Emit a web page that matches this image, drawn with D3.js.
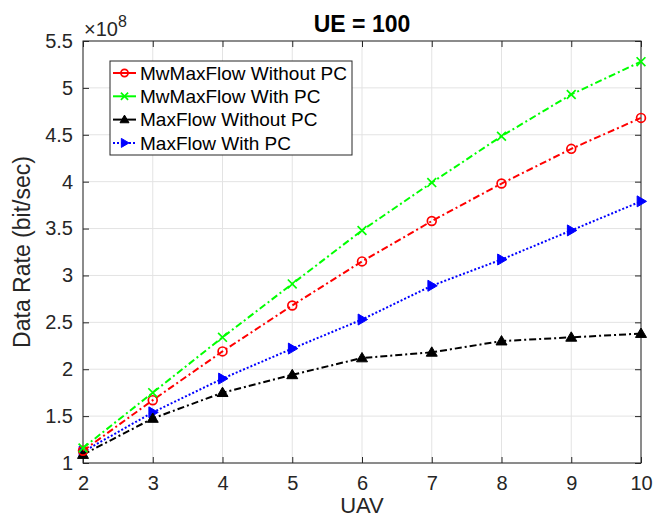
<!DOCTYPE html>
<html>
<head>
<meta charset="utf-8">
<script src="https://cdn.jsdelivr.net/npm/d3@7"></script>
<style>
  body { margin: 0; background: #fff; }
  svg { font-family: "Liberation Sans", Arial, sans-serif; }
</style>
</head>
<body>
<div id="chart"></div>
<script>
// data (values in units of 1e8 bit/sec)
const uav = [2, 3, 4, 5, 6, 7, 8, 9, 10];
const mwMaxFlowNoPC = [1.13, 1.67, 2.19, 2.68, 3.15, 3.58, 3.98, 4.35, 4.68];
const mwMaxFlowPC = [1.16, 1.75, 2.34, 2.91, 3.48, 3.99, 4.485, 4.93, 5.28];
const maxFlowNoPC = [1.09, 1.475, 1.75, 1.94, 2.12, 2.18, 2.30, 2.34, 2.38];
const maxFlowPC = [1.12, 1.54, 1.90, 2.22, 2.53, 2.89, 3.17, 3.48, 3.79];
const xTicks = [2, 3, 4, 5, 6, 7, 8, 9, 10];
const yTicks = [1, 1.5, 2, 2.5, 3, 3.5, 4, 4.5, 5, 5.5];

const series = [
  { name: 'MwMaxFlow Without PC', values: mwMaxFlowNoPC, color: '#ff0000', dash: '7,3,2,3', marker: 'circle' },
  { name: 'MwMaxFlow With PC', values: mwMaxFlowPC, color: '#00ff00', dash: '7,3,2,3', marker: 'x' },
  { name: 'MaxFlow Without PC', values: maxFlowNoPC, color: '#000000', dash: '7,3,2,3', marker: 'up' },
  { name: 'MaxFlow With PC', values: maxFlowPC, color: '#0000ff', dash: '2,2', marker: 'right' },
];

// dimensions
const WIDTH = 654;
const HEIGHT = 520;
const MARGIN = { top: 41, right: 13, bottom: 57, left: 83 };
const innerW = WIDTH - MARGIN.left - MARGIN.right;
const innerH = HEIGHT - MARGIN.top - MARGIN.bottom;
const AXIS_COLOR = '#262626';

const scaleX = d3.scaleLinear().domain([2, 10]).range([0, innerW]);
const scaleY = d3.scaleLinear().domain([1, 5.5]).range([innerH, 0]);

const $svg = d3.select('#chart').append('svg')
  .attr('width', WIDTH)
  .attr('height', HEIGHT);

const $vis = $svg.append('g').attr('transform', `translate(${MARGIN.left},${MARGIN.top})`);

// grid
$vis.append('g').selectAll('line').data(xTicks).join('line')
  .attr('x1', d => scaleX(d)).attr('x2', d => scaleX(d))
  .attr('y1', 0).attr('y2', innerH)
  .attr('stroke', '#e3e3e3').attr('stroke-width', 1);
$vis.append('g').selectAll('line').data(yTicks).join('line')
  .attr('y1', d => scaleY(d)).attr('y2', d => scaleY(d))
  .attr('x1', 0).attr('x2', innerW)
  .attr('stroke', '#e3e3e3').attr('stroke-width', 1);

// axes, ticks inward
function styleAxis(g) {
  g.select('.domain').remove();
  g.selectAll('.tick line').attr('stroke', AXIS_COLOR);
  g.selectAll('.tick text').attr('fill', AXIS_COLOR).style('font-size', '20px');
}
$vis.append('g').attr('transform', `translate(0,${innerH})`)
  .call(d3.axisBottom(scaleX).tickValues(xTicks).tickSizeInner(-6).tickPadding(13).tickFormat(d3.format('d')))
  .call(styleAxis);
$vis.append('g')
  .call(d3.axisTop(scaleX).tickValues(xTicks).tickSizeInner(-6).tickFormat(''))
  .call(styleAxis);
$vis.append('g')
  .call(d3.axisLeft(scaleY).tickValues(yTicks).tickSizeInner(-6).tickPadding(10).tickFormat(d => d))
  .call(styleAxis);
$vis.append('g').attr('transform', `translate(${innerW},0)`)
  .call(d3.axisRight(scaleY).tickValues(yTicks).tickSizeInner(-6).tickFormat(''))
  .call(styleAxis);

$vis.append('rect')
  .attr('width', innerW).attr('height', innerH)
  .attr('fill', 'none').attr('stroke', AXIS_COLOR).attr('stroke-width', 1);

// markers
function drawMarker(g, type, color, size) {
  if (type === 'circle') {
    g.append('circle').attr('r', size * 0.8).attr('fill', 'none')
      .attr('stroke', color).attr('stroke-width', 1.7);
  } else if (type === 'x') {
    const s = size * 0.8;
    g.append('path').attr('d', `M${-s},${-s}L${s},${s}M${-s},${s}L${s},${-s}`)
      .attr('stroke', color).attr('stroke-width', 1.7);
  } else if (type === 'up') {
    const s = size;
    g.append('path').attr('d', `M0,${-s}L${s},${s * 0.7}L${-s},${s * 0.7}Z`)
      .attr('fill', color).attr('stroke', color).attr('stroke-width', 1);
  } else if (type === 'right') {
    const s = size;
    g.append('path').attr('d', `M${s},0L${-s * 0.7},${-s}L${-s * 0.7},${s}Z`)
      .attr('fill', color).attr('stroke', color).attr('stroke-width', 1);
  }
}

const line = d3.line().x((d, i) => scaleX(uav[i])).y(d => scaleY(d));

const drawOrder = [3, 2, 0, 1];
drawOrder.forEach(k => {
  const s = series[k];
  $vis.append('path')
    .datum(s.values)
    .attr('d', line)
    .attr('fill', 'none')
    .attr('stroke', s.color)
    .attr('stroke-width', 2)
    .attr('stroke-dasharray', s.dash);
  s.values.forEach((v, i) => {
    const g = $vis.append('g').attr('transform', `translate(${scaleX(uav[i])},${scaleY(v)})`);
    drawMarker(g, s.marker, s.color, 5.5);
  });
});

// legend
const $legend = $svg.append('g').attr('transform', 'translate(110,61)');
$legend.append('rect')
  .attr('width', 242).attr('height', 94)
  .attr('fill', '#fff').attr('stroke', AXIS_COLOR).attr('stroke-width', 1);
series.forEach((s, i) => {
  const y = 12 + i * 23.3;
  const row = $legend.append('g').attr('transform', `translate(0,${y})`);
  row.append('line')
    .attr('x1', 3).attr('x2', 26).attr('y1', 0).attr('y2', 0)
    .attr('stroke', s.color).attr('stroke-width', 2)
    .attr('stroke-dasharray', s.marker === 'right' ? '2,2' : null);
  drawMarker(row.append('g').attr('transform', 'translate(14.5,0)'), s.marker, s.color, 4.5);
  row.append('text')
    .attr('x', 30).attr('y', 0).attr('dy', '0.35em')
    .style('font-size', '19px').attr('fill', '#000')
    .text(s.name);
});

// title and labels
$svg.append('text')
  .attr('x', MARGIN.left + innerW / 2).attr('y', 31.5)
  .attr('text-anchor', 'middle')
  .style('font-size', '23px').style('font-weight', 'bold')
  .attr('fill', '#000')
  .text('UE = 100');

$svg.append('text')
  .attr('x', MARGIN.left + innerW / 2).attr('y', 513)
  .attr('text-anchor', 'middle')
  .style('font-size', '22px').attr('fill', AXIS_COLOR)
  .text('UAV');

$svg.append('text')
  .attr('transform', `translate(30,${MARGIN.top + innerH / 2}) rotate(-90)`)
  .attr('text-anchor', 'middle')
  .style('font-size', '23px').attr('fill', AXIS_COLOR)
  .text('Data Rate (bit/sec)');

const $exp = $svg.append('text')
  .attr('x', 84).attr('y', 36)
  .style('font-size', '20px').attr('fill', AXIS_COLOR);
$exp.append('tspan').text('\u00d710');
$exp.append('tspan').attr('dy', -9).style('font-size', '16px').text('8');
</script>
</body>
</html>
